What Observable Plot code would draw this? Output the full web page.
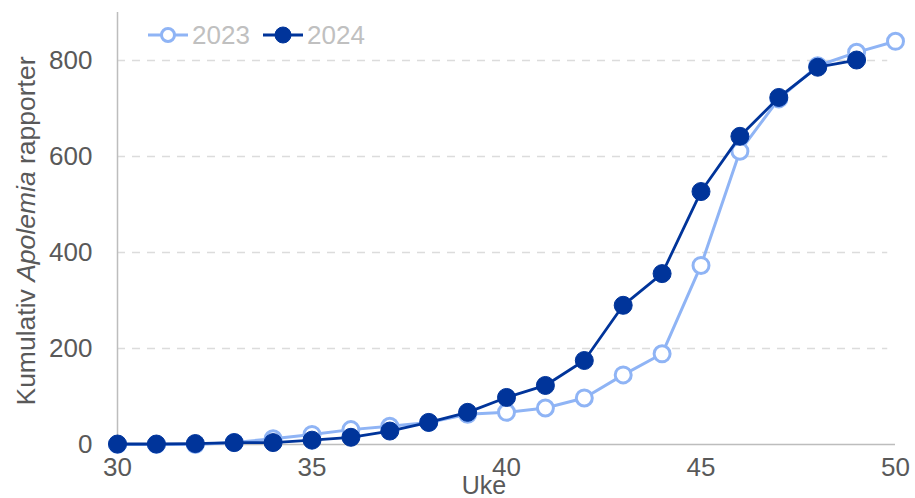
<!DOCTYPE html>
<html>
<head>
<meta charset="utf-8">
<script src="https://cdn.jsdelivr.net/npm/d3@7"></script>
<script src="https://cdn.jsdelivr.net/npm/@observablehq/plot@0.6"></script>
<style>
  html, body { margin: 0; padding: 0; background: #fff; }
  #chart { width: 915px; height: 498px; overflow: hidden; }
</style>
</head>
<body>
<div id="chart"></div>
<script>
const weeks2023 = [30,31,32,33,34,35,36,37,38,39,40,41,42,43,44,45,46,47,48,49,50];
const values2023 = [0,0,0,4,12,21,31,38,46,63,67,76,97,145,189,373,611,720,789,817,840];
const weeks2024 = [30,31,32,33,34,35,36,37,38,39,40,41,42,43,44,45,46,47,48,49];
const values2024 = [1,1,2,4,4,9,15,28,46,67,98,123,175,290,356,527,642,723,786,801];
const xTicks = [30,35,40,45,50];
const yTicks = [0,200,400,600,800];
const seriesNames = ["2023","2024"];
const colors = ["#8fb4f5","#00349a"];

const d23 = weeks2023.map((w,i)=>({uke:w, verdi:values2023[i]}));
const d24 = weeks2024.map((w,i)=>({uke:w, verdi:values2024[i]}));

const font = "'Liberation Sans', Arial, sans-serif";

const chart = Plot.plot({
  width: 915,
  height: 498,
  marginLeft: 117,
  marginRight: 20,
  marginTop: 12,
  marginBottom: 54,
  style: {fontFamily: font, fontSize: "26px", color: "#595959", background: "#fff"},
  x: {domain: [30, 50], label: null},
  y: {domain: [0, 900], label: null},
  marks: [
    Plot.gridY(yTicks.slice(1), {stroke: "#dcdcdc", strokeOpacity: 1, strokeWidth: 1.5, strokeDasharray: "8,7", x2: 49.8}),
    Plot.ruleX([30], {stroke: "#bdbdbd", strokeWidth: 1.5}),
    Plot.ruleY([0], {stroke: "#bdbdbd", strokeWidth: 1.5}),
    Plot.axisX(xTicks, {tickSize: 0, tickPadding: 13, fill: "#595959", fontSize: 26, label: null}),
    Plot.axisY(yTicks, {tickSize: 0, tickPadding: 25, fill: "#595959", fontSize: 26, label: null}),
    Plot.line(d23, {x: "uke", y: "verdi", stroke: colors[0], strokeWidth: 3}),
    Plot.dot(d23, {x: "uke", y: "verdi", r: 8, stroke: colors[0], strokeWidth: 3, fill: "#fff"}),
    Plot.line(d24, {x: "uke", y: "verdi", stroke: colors[1], strokeWidth: 2.8}),
    Plot.dot(d24, {x: "uke", y: "verdi", r: 9, fill: colors[1], stroke: colors[1], strokeWidth: 1})
  ]
});

document.getElementById("chart").appendChild(chart);

const svg = d3.select(chart);

// Y axis label with italic part
const yl = svg.append("text")
  .attr("transform", "translate(35,231) rotate(-90)")
  .attr("text-anchor", "middle")
  .attr("font-family", font)
  .attr("font-size", 26.5)
  .attr("fill", "#595959");
yl.append("tspan").text("Kumulativ ");
yl.append("tspan").attr("font-style", "italic").text("Apolemia");
yl.append("tspan").text(" rapporter");

// X axis label
svg.append("text")
  .attr("x", 484).attr("y", 494)
  .attr("text-anchor", "middle")
  .attr("font-family", font)
  .attr("font-size", 25)
  .attr("fill", "#595959")
  .text("Uke");

// Legend
const legendX = [148, 263];
seriesNames.forEach((name, i) => {
  const g = svg.append("g").attr("transform", `translate(${legendX[i]},35)`);
  g.append("line").attr("x1", 0).attr("x2", 40).attr("y1", 0).attr("y2", 0)
    .attr("stroke", colors[i]).attr("stroke-width", 3);
  g.append("circle").attr("cx", 20).attr("cy", 0).attr("r", i === 0 ? 6.5 : 8)
    .attr("fill", i === 0 ? "#fff" : colors[i])
    .attr("stroke", colors[i]).attr("stroke-width", i === 0 ? 3 : 1);
  g.append("text").attr("x", 44).attr("y", 0).attr("dy", "0.36em")
    .attr("text-anchor", "start")
    .attr("font-family", font).attr("font-size", 26).attr("fill", "#c0c0c0")
    .text(name);
});
</script>
</body>
</html>
